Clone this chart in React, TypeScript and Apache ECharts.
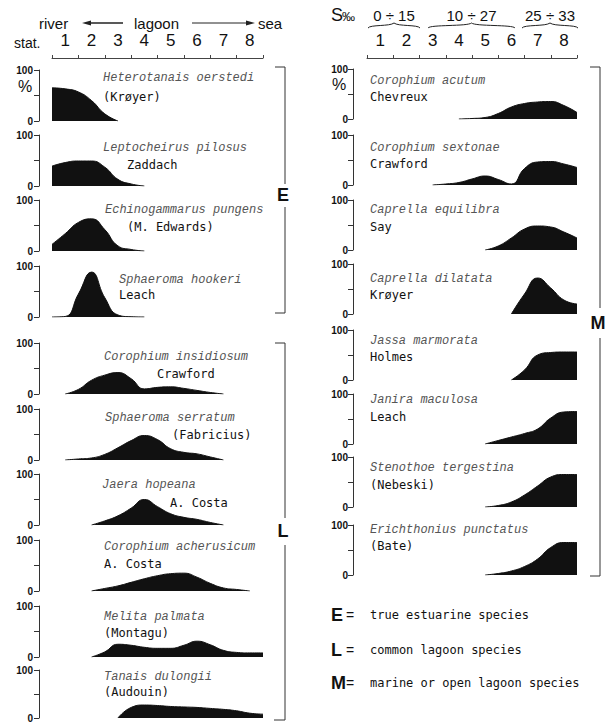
import React, { useEffect, useRef } from 'react';
import * as echarts from 'echarts';

const _ = null;
// x positions (stations, half-station steps)
const stations = [0.5, 1, 1.5, 2, 2.5, 3, 3.5, 4, 4.5, 5, 5.5, 6, 6.5, 7, 7.5, 8, 8.5];
const stationLabels = ['1', '2', '3', '4', '5', '6', '7', '8'];
const yTicks = [0, 50, 100];

// Left column (% abundance)
const heterotanaisOerstedi = [65, 63, 57, 40, 14, 0, _, _, _, _, _, _, _, _, _, _, _];
const leptocheirusPilosus = [39, 46, 49, 49, 37, 13, 4, 0, _, _, _, _, _, _, _, _, _];
const echinogammarusPungens = [13, 34, 56, 63, 42, 10, 3, 0, _, _, _, _, _, _, _, _, _];
const sphaeromaHookeri = [0, 1, 45, 88, 38, 4, 0.5, 0, _, _, _, _, _, _, _, _, _];
const corophiumInsidiosum = [_, 0, 9, 27, 37, 42, 30, 10, 13, 14, 11, 7, 3, 0, _, _, _];
const sphaeromaSerratum = [_, 0, 2, 4, 11, 24, 38, 48, 40, 22, 15, 12, 6, 0, _, _, _];
const jaeraHopeana = [_, _, _, 0, 8, 18, 33, 50, 36, 22, 15, 11, 5, 0, _, _, _];
const corophiumAcherusicum = [_, _, _, 0, 5, 10, 17, 24, 30, 34, 35, 27, 15, 6, 3, 0, _];
const melitaPalmata = [_, _, _, 0, 10, 25, 23, 19, 17, 17, 23, 31, 24, 13, 9, 8, 8];
const tanaisDulongii = [_, _, _, _, _, 0, 22, 27, 26, 24, 23, 22, 20, 18, 15, 10, 8];

// Right column
const corophiumAcutum = [_, _, _, _, _, _, _, 0, 1, 3, 11, 24, 31, 34, 35, 27, 13];
const corophiumSextonae = [_, _, _, _, _, 0, 2, 5, 12, 18, 11, 2, 33, 46, 47, 42, 35];
const caprellaEquilibra = [_, _, _, _, _, _, _, _, _, 0, 8, 24, 42, 48, 46, 36, 24];
const caprellaDilatata = [_, _, _, _, _, _, _, _, _, _, _, 0, 40, 72, 52, 28, 20];
const jassaMarmorata = [_, _, _, _, _, _, _, _, _, _, _, 0, 20, 50, 55, 56, 56];
const janiraMaculosa = [_, _, _, _, _, _, _, _, _, 0, 7, 14, 21, 30, 52, 64, 65];
const stenothoeTergestina = [_, _, _, _, _, _, _, _, _, 0, 3, 10, 24, 42, 60, 65, 65];
const erichthoniusPunctatus = [_, _, _, _, _, _, _, _, _, 0, 3, 8, 17, 32, 55, 65, 65];

const leftSeries = [heterotanaisOerstedi, leptocheirusPilosus, echinogammarusPungens, sphaeromaHookeri,
  corophiumInsidiosum, sphaeromaSerratum, jaeraHopeana, corophiumAcherusicum, melitaPalmata, tanaisDulongii];
const rightSeries = [corophiumAcutum, corophiumSextonae, caprellaEquilibra, caprellaDilatata,
  jassaMarmorata, janiraMaculosa, stenothoeTergestina, erichthoniusPunctatus];

const leftNames = ['Heterotanais oerstedi', 'Leptocheirus pilosus', 'Echinogammarus pungens', 'Sphaeroma hookeri',
  'Corophium insidiosum', 'Sphaeroma serratum', 'Jaera hopeana', 'Corophium acherusicum', 'Melita palmata', 'Tanais dulongii'];
const leftAuthors = ['(Krøyer)', 'Zaddach', '(M. Edwards)', 'Leach', 'Crawford', '(Fabricius)', 'A. Costa', 'A. Costa', '(Montagu)', '(Audouin)'];
const rightNames = ['Corophium acutum', 'Corophium sextonae', 'Caprella equilibra', 'Caprella dilatata',
  'Jassa marmorata', 'Janira maculosa', 'Stenothoe tergestina', 'Erichthonius punctatus'];
const rightAuthors = ['Chevreux', 'Crawford', 'Say', 'Krøyer', 'Holmes', 'Leach', '(Nebeski)', '(Bate)'];
const salinityRanges = ['0 ÷ 15', '10 ÷ 27', '25 ÷ 33'];
const legendKeys = ['E', 'L', 'M'];
const legendTexts = ['true estuarine species', 'common lagoon species', 'marine or open lagoon species'];

// Layout
const leftTops = [70, 135, 200, 266, 343, 409, 474, 540, 606, 670];
const rightTops = [69, 135, 200, 264, 330, 394, 457, 525];
const leftNamePos = [[103, 78, 103, 97], [103, 148, 127, 165], [105, 210, 127, 227], [119, 280, 119, 295],
  [104, 357, 157, 374], [105, 418, 172, 435], [102, 485, 170, 503], [104, 547, 104, 564], [104, 617, 104, 633], [104, 677, 104, 692]];
const rightNamePos = [[81, 97], [148, 164], [210, 227], [279, 295], [341, 357], [400, 417], [468, 485], [530, 546]];

const MONO = '"DejaVu Sans Mono", "Liberation Mono", monospace';
const ITAL = '"Liberation Mono", "DejaVu Sans Mono", monospace';
const SANS = '"Liberation Sans", Arial, sans-serif';
const INK = '#111';

function txt(x: number, y: number, text: string, extra: any = {}) {
  const align = extra.align || 'left';
  return {
    type: 'text', x, y, silent: true,
    style: {
      text, fill: extra.fill || INK, fontSize: extra.fontSize || 12,
      fontFamily: extra.fontFamily || MONO, fontStyle: extra.fontStyle || 'normal',
      fontWeight: extra.fontWeight || 'normal',
      align, textAlign: align, verticalAlign: 'middle', textVerticalAlign: 'middle',
    },
  };
}

function line(points: number[][], w = 1, color = '#333') {
  return { type: 'polyline', silent: true, shape: { points }, style: { stroke: color, lineWidth: w, fill: null } };
}

export default function App() {
  const ref = useRef<HTMLDivElement>(null);
  useEffect(() => {
    if (!ref.current) return;
    const chart = echarts.init(ref.current, null, { renderer: 'svg' });
    const grids: any[] = [];
    const xAxes: any[] = [];
    const yAxes: any[] = [];
    const series: any[] = [];

    const addPanel = (left: number, width: number, top: number, height: number, offset: number, margin: number, vals: (number | null)[]) => {
      const i = grids.length;
      grids.push({ left, width, top, height });
      xAxes.push({ gridIndex: i, type: 'value', min: 0.5, max: 8.5, show: false });
      yAxes.push({
        gridIndex: i, type: 'value', min: yTicks[0], max: yTicks[2], interval: yTicks[1], offset,
        axisLine: { show: true, lineStyle: { color: '#333', width: 1 } },
        axisTick: { show: true, length: 5, lineStyle: { color: '#333' } },
        splitLine: { show: false },
        axisLabel: {
          margin, fontSize: 10, fontWeight: 'bold', color: INK, fontFamily: SANS,
          formatter: (v: number) => (v === yTicks[1] ? '' : String(v)),
        },
      });
      const data = stations.map((x, k) => (vals[k] == null ? null : [x, vals[k]])).filter((d) => d !== null);
      series.push({
        type: 'line', xAxisIndex: i, yAxisIndex: i, data, smooth: 0.5,
        symbol: 'none', showSymbol: false, silent: true,
        lineStyle: { color: INK, width: 1 }, areaStyle: { color: INK, opacity: 1 },
      });
    };

    leftSeries.forEach((vals, k) => addPanel(52, 211, leftTops[k], 51, 13, 6, vals));
    rightSeries.forEach((vals, k) => addPanel(367, 210, rightTops[k], 50, 14, 5, vals));

    // header station axes
    [[52, 211], [367, 210]].forEach(([left, width]) => {
      const i = grids.length;
      grids.push({ left, width, top: 54, height: 4 });
      xAxes.push({
        gridIndex: i, type: 'category', data: stationLabels, position: 'top', boundaryGap: true,
        axisLine: { show: true, lineStyle: { color: '#444', width: 1 } },
        axisTick: { show: true, length: 3, lineStyle: { color: '#444' } },
        axisLabel: { fontSize: 17, color: INK, margin: 5, fontFamily: SANS },
        splitLine: { show: false },
      });
      yAxes.push({ gridIndex: i, type: 'value', show: false });
    });

    const g: any[] = [];
    // Left header
    g.push(txt(39, 23, 'river', { fontSize: 15, fontFamily: SANS }));
    g.push(line([[86, 23], [123, 23]], 1.3, '#222'));
    g.push({ type: 'polygon', silent: true, shape: { points: [[82, 23], [91, 20.5], [91, 25.5]] }, style: { fill: '#222' } });
    g.push(txt(134, 23, 'lagoon', { fontSize: 15, fontFamily: SANS }));
    g.push(line([[192, 23], [250, 23]], 1, '#222'));
    g.push({ type: 'polygon', silent: true, shape: { points: [[255, 23], [246, 20.5], [246, 25.5]] }, style: { fill: '#222' } });
    g.push(txt(258, 23, 'sea', { fontSize: 15, fontFamily: SANS }));
    g.push(txt(14, 43, 'stat.', { fontSize: 14, fontFamily: SANS }));

    // Right header
    g.push(txt(331, 15, 'S', { fontSize: 18, fontFamily: SANS }));
    g.push(txt(342, 16, '‰', { fontSize: 13, fontFamily: SANS }));
    const braceSpans = [[368, 420], [428, 515], [522, 578]];
    braceSpans.forEach(([x0, x1], k) => {
      const xc = (x0 + x1) / 2;
      g.push(txt(xc, 15, salinityRanges[k], { fontSize: 15, fontFamily: SANS, align: 'center' }));
      g.push({ type: 'bezierCurve', silent: true, shape: { x1: x0, y1: 28, cpx1: x0 + 2, cpy1: 24.5, cpx2: xc - 4, cpy2: 26.5, x2: xc, y2: 23 }, style: { stroke: '#222', lineWidth: 1, fill: null } });
      g.push({ type: 'bezierCurve', silent: true, shape: { x1: x1, y1: 28, cpx1: x1 - 2, cpy1: 24.5, cpx2: xc + 4, cpy2: 26.5, x2: xc, y2: 23 }, style: { stroke: '#222', lineWidth: 1, fill: null } });
    });

    // % signs
    g.push(txt(25, 86, '%', { fontSize: 16, fontFamily: SANS, align: 'center' }));
    g.push(txt(339, 84, '%', { fontSize: 16, fontFamily: SANS, align: 'center' }));

    // species labels
    leftNames.forEach((n, k) => {
      const p = leftNamePos[k];
      g.push(txt(p[0], p[1], n, { fontSize: 12, fontFamily: ITAL, fontStyle: 'italic', fill: '#555' }));
      g.push(txt(p[2], p[3], leftAuthors[k], { fontSize: 12 }));
    });
    rightNames.forEach((n, k) => {
      const p = rightNamePos[k];
      g.push(txt(370, p[0], n, { fontSize: 12, fontFamily: ITAL, fontStyle: 'italic', fill: '#555' }));
      g.push(txt(370, p[1], rightAuthors[k], { fontSize: 12 }));
    });

    // brackets
    g.push(line([[275, 67], [285, 67], [285, 184]]));
    g.push(line([[285, 207], [285, 313], [275, 313]]));
    g.push(txt(283, 195, legendKeys[0], { fontSize: 18, fontFamily: SANS, fontWeight: 'bold', align: 'center' }));
    g.push(line([[275, 343], [285, 343], [285, 518]]));
    g.push(line([[285, 545], [285, 720], [274, 720]]));
    g.push(txt(283, 531, legendKeys[1], { fontSize: 18, fontFamily: SANS, fontWeight: 'bold', align: 'center' }));
    g.push(line([[590, 67], [600, 67], [600, 308]]));
    g.push(line([[600, 338], [600, 576], [590, 576]]));
    g.push(txt(598, 323, legendKeys[2], { fontSize: 18, fontFamily: SANS, fontWeight: 'bold', align: 'center' }));

    // legend
    const legY = [615, 650, 683];
    legendKeys.forEach((k, i) => {
      g.push(txt(331, legY[i], k, { fontSize: 18, fontFamily: SANS, fontWeight: 'bold' }));
      g.push(txt(346, legY[i], '=', { fontSize: 14, fontFamily: SANS }));
      g.push(txt(370, legY[i], legendTexts[i], { fontSize: 12 }));
    });

    chart.setOption({
      animation: false,
      backgroundColor: '#fff',
      grid: grids,
      xAxis: xAxes,
      yAxis: yAxes,
      series,
      graphic: { elements: g },
    });
    return () => chart.dispose();
  }, []);
  return <div ref={ref} style={{ position: 'absolute', left: 0, top: 0, width: 608, height: 723, background: '#fff' }} />;
}
